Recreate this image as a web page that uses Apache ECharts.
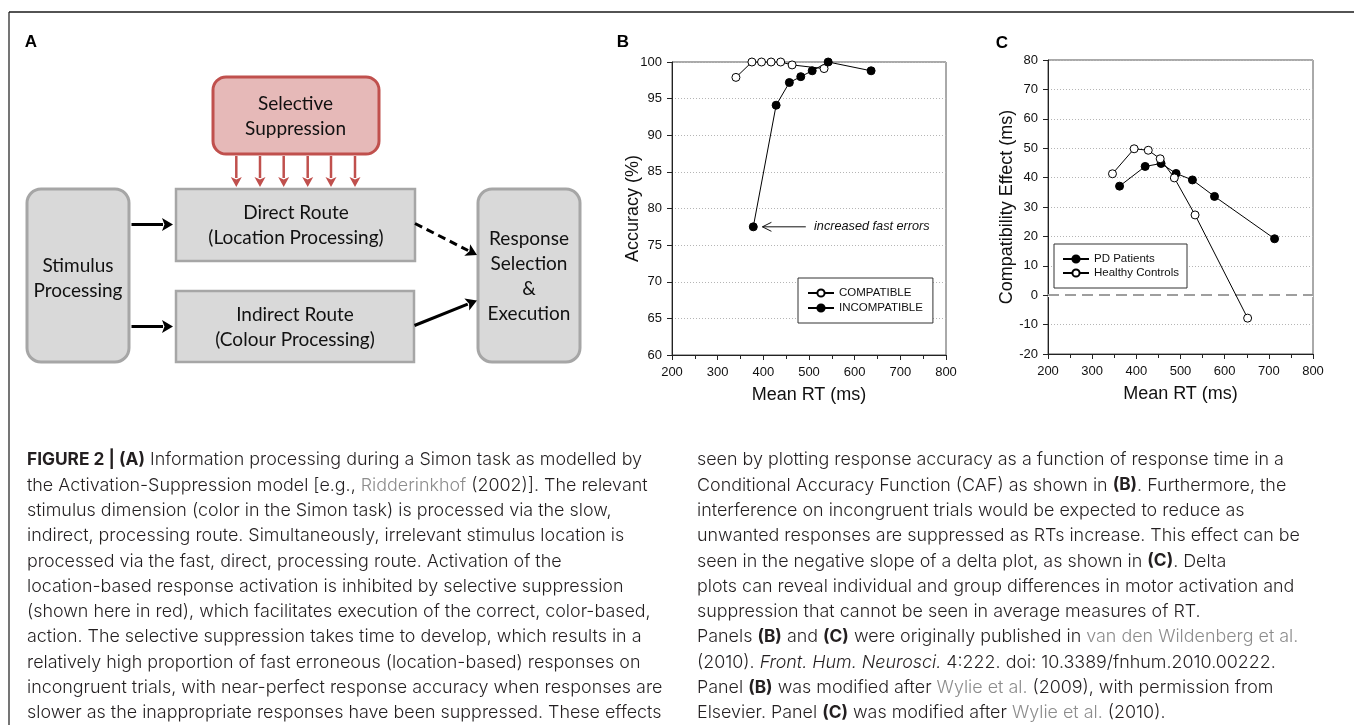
<!DOCTYPE html>
<html><head><meta charset="utf-8">
<script src="https://cdn.jsdelivr.net/npm/echarts@6/dist/echarts.min.js"></script>
<style>html,body{margin:0;padding:0;background:#fff}#c{width:1354px;height:725px}</style>
</head><body><div id="c"></div>
<script>
// ---------- data ----------
const rtTicks = [200, 300, 400, 500, 600, 700, 800];
const accuracyTicks = [60, 65, 70, 75, 80, 85, 90, 95, 100];
const effectTicks = [-20, -10, 0, 10, 20, 30, 40, 50, 60, 70, 80];
const compatibleNames = ['COMPATIBLE', 'INCOMPATIBLE'];
const compatible = [[340,97.9],[375,100],[396,100],[417,100],[438,100],[463,99.6],[533,99.1]];
const incompatible = [[378,77.5],[428,94.1],[457,97.2],[482,98],[507,98.8],[542,100],[636,98.8]];
const groupNames = ['PD Patients', 'Healthy Controls'];
const pdPatients = [[362,37.1],[420,43.8],[456,44.8],[490,41.4],[527,39.2],[577,33.6],[713,19.2]];
const healthyControls = [[346,41.3],[395,49.8],[427,49.3],[454,46.4],[486,39.9],[533,27.3],[652,-7.8]];
const zeroLine = 0;
const annotationText = 'increased fast errors';
const annotationTip = [398, 77.5];
const annotationTail = [493, 77.5];
const annotationTextAt = [511, 77.5];

const captionLeft = [
  '{b|FIGURE 2 | (A)}{n| Information processing during a Simon task as modelled by}',
  '{n|the Activation-Suppression model [e.g., }{g|Ridderinkhof}{n| (2002)]. The relevant}',
  '{n|stimulus dimension (color in the Simon task) is processed via the slow,}',
  '{n|indirect, processing route. Simultaneously, irrelevant stimulus location is}',
  '{n|processed via the fast, direct, processing route. Activation of the}',
  '{n|location-based response activation is inhibited by selective suppression}',
  '{n|(shown here in red), which facilitates execution of the correct, color-based,}',
  '{n|action. The selective suppression takes time to develop, which results in a}',
  '{n|relatively high proportion of fast erroneous (location-based) responses on}',
  '{n|incongruent trials, with near-perfect response accuracy when responses are}',
  '{n|slower as the inappropriate responses have been suppressed. These effects}'
];
const captionRight = [
  '{n|seen by plotting response accuracy as a function of response time in a}',
  '{n|Conditional Accuracy Function (CAF) as shown in }{b|(B)}{n|. Furthermore, the}',
  '{n|interference on incongruent trials would be expected to reduce as}',
  '{n|unwanted responses are suppressed as RTs increase. This effect can be}',
  '{n|seen in the negative slope of a delta plot, as shown in }{b|(C)}{n|. Delta}',
  '{n|plots can reveal individual and group differences in motor activation and}',
  '{n|suppression that cannot be seen in average measures of RT.}',
  '{n|Panels }{b|(B)}{n| and }{b|(C)}{n| were originally published in }{g|van den Wildenberg et al.}',
  '{n|(2010). }{i|Front. Hum. Neurosci.}{n| 4:222. doi: 10.3389/fnhum.2010.00222.}',
  '{n|Panel }{b|(B)}{n| was modified after }{g|Wylie et al.}{n| (2009), with permission from}',
  '{n|Elsevier. Panel }{b|(C)}{n| was modified after }{g|Wylie et al.}{n| (2010).}'
];

// ---------- chart ----------
const AX = 'Liberation Sans';
const chart = echarts.init(document.getElementById('c'));

function xAx(gi) {
  return {
    type: 'value', gridIndex: gi, min: rtTicks[0], max: rtTicks[rtTicks.length - 1], interval: 100,
    axisLine: { show: true, onZero: false, lineStyle: { color: '#222', width: 1 } },
    axisTick: { show: true, length: 5, lineStyle: { color: '#222' } },
    minorTick: { show: true, splitNumber: 2, length: 4, lineStyle: { color: '#222' } },
    axisLabel: { fontSize: 13, color: '#111', fontFamily: AX, margin: 11 },
    splitLine: { show: false },
    name: 'Mean RT (ms)', nameLocation: 'middle', nameGap: 31,
    nameTextStyle: { fontSize: 18, color: '#111', fontFamily: AX }
  };
}
function yAx(gi, ticks, name, gap) {
  return {
    type: 'value', gridIndex: gi, min: ticks[0], max: ticks[ticks.length - 1], interval: ticks[1] - ticks[0],
    axisLine: { show: true, onZero: false, lineStyle: { color: '#222', width: 1 } },
    axisTick: { show: true, length: 5, lineStyle: { color: '#222' } },
    axisLabel: { fontSize: 13, color: '#111', fontFamily: AX, margin: 10 },
    splitLine: { show: true, lineStyle: { color: '#b5b5b5', type: [1, 2], width: 1 } },
    name: name, nameLocation: 'middle', nameGap: gap, nameMoveOverlap: false,
    nameTextStyle: { fontSize: 18, color: '#111', fontFamily: AX }
  };
}
function ser(name, data, xi, filled, extra) {
  return Object.assign({
    type: 'line', name: name, data: data, xAxisIndex: xi, yAxisIndex: xi,
    symbol: 'circle', symbolSize: 8,
    itemStyle: { color: filled ? '#000' : '#fff', borderColor: '#000', borderWidth: 1 },
    lineStyle: { color: '#000', width: 1 },
    emphasis: { disabled: true }
  }, extra || {});
}
function leg(names, left, top, pad, gap) {
  return {
    data: names, left: left, top: top, orient: 'vertical', padding: pad, itemGap: gap,
    itemWidth: 26, itemHeight: 9, borderColor: '#333', borderWidth: 1, borderRadius: 0,
    backgroundColor: '#fff', selectedMode: false,
    textStyle: { fontSize: 11.5, color: '#111', fontFamily: AX }
  };
}

const option = {
  animation: false,
  backgroundColor: '#fff',
  grid: [
    { left: 672, top: 62, width: 274, height: 293, show: true, borderColor: '#555', borderWidth: 1 },
    { left: 1048, top: 60, width: 265, height: 294, show: true, borderColor: '#555', borderWidth: 1 }
  ],
  xAxis: [xAx(0), xAx(1)],
  yAxis: [yAx(0, accuracyTicks, 'Accuracy (%)', 30), yAx(1, effectTicks, 'Compatibility Effect (ms)', 32)],
  legend: [
    leg(compatibleNames, 798, 278, [9, 10, 9, 9], 3),
    leg(groupNames, 1054, 244, [9, 8, 9, 8], 2)
  ],
  series: [
    ser(compatibleNames[0], compatible, 0, false),
    ser(compatibleNames[1], incompatible, 0, true),
    ser(groupNames[0], pdPatients, 1, true, {
      markLine: { silent: true, symbol: ['none', 'none'], label: { show: false }, z: 1,
        data: [
          { yAxis: zeroLine, lineStyle: { type: 'solid', color: '#fff', width: 3 } },
          { yAxis: zeroLine, lineStyle: { type: [11, 6], color: '#7f7f7f', width: 1.6 } }
        ] }
    }),
    ser(groupNames[1], healthyControls, 1, false)
  ]
};
chart.setOption(option);

// ---------- graphics: diagram A, annotation, caption ----------
const G = [];
let gid = 0;
const DF = 'Lato';
function rect(x, y, w, h, r, fill, stroke, lw) {
  G.push({ type: 'rect', id: 'g' + (gid++), shape: { x: x, y: y, width: w, height: h, r: r },
    style: { fill: fill, stroke: stroke, lineWidth: lw }, z: 1 });
}
function txt(x, y, t, size, family, extra) {
  G.push({ type: 'text', id: 'g' + (gid++), x: x, y: y, z: 5,
    style: Object.assign({ text: t, fontSize: size, fontFamily: family, fill: '#111', align: 'center', verticalAlign: 'middle' }, extra || {}) });
}
function seg(x1, y1, x2, y2, color, lw, dash) {
  G.push({ type: 'line', id: 'g' + (gid++), shape: { x1: x1, y1: y1, x2: x2, y2: y2 }, z: 3,
    style: { stroke: color, lineWidth: lw, lineDash: dash || null } });
}
function arrow(x1, y1, x2, y2, color, lw, L, W, dash) {
  const dx = x2 - x1, dy = y2 - y1, len = Math.hypot(dx, dy);
  const ux = dx / len, uy = dy / len, px = -uy, py = ux;
  const bx = x2 - ux * L, by = y2 - uy * L;
  seg(x1, y1, bx + ux * 1, by + uy * 1, color, lw, dash);
  G.push({ type: 'polygon', id: 'g' + (gid++), z: 4,
    shape: { points: [[x2, y2], [bx + px * W, by + py * W], [bx + ux * 2.5, by + uy * 2.5], [bx - px * W, by - py * W]] },
    style: { fill: color } });
}

// frame lines
seg(9, 12, 1354, 12, '#1a1a1a', 1.5);
seg(9, 12, 9, 725, '#1a1a1a', 1.2);

// panel letters
txt(31, 42, 'A', 17, AX, { fontWeight: 'bold', fill: '#000' });
txt(623, 42, 'B', 17, AX, { fontWeight: 'bold', fill: '#000' });
txt(1002, 43, 'C', 17, AX, { fontWeight: 'bold', fill: '#000' });

// boxes
const RED = '#c0504d';
rect(213, 77, 166, 77, 13, '#e6b9b8', RED, 3);
rect(176, 189, 239, 72, 0, '#d9d9d9', '#a6a6a6', 2.5);
rect(176, 291, 238, 71, 0, '#d9d9d9', '#a6a6a6', 2.5);
rect(27, 189, 102, 173, 14, '#d9d9d9', '#a6a6a6', 3);
rect(478, 189, 102, 173, 14, '#d9d9d9', '#a6a6a6', 3);

// red suppression arrows
[236.3, 260, 283.7, 307.7, 331, 355].forEach(function (x) { arrow(x, 156, x, 187, RED, 2.5, 10, 5.5); });
// black arrows
arrow(131.5, 224.5, 173, 224.5, '#000', 3, 11, 6.5);
arrow(131.5, 326.5, 173, 326.5, '#000', 3, 11, 6.5);
arrow(415, 223.5, 477, 255, '#000', 3, 11, 6.5, [8, 5]);
arrow(414.5, 325.5, 477, 300.5, '#000', 3, 11, 6.5);

// diagram text
const DS = 19;
txt(295.5, 103.5, 'Selective', DS, DF);
txt(295.5, 128.5, 'Suppression', DS, DF);
txt(296, 213, 'Direct Route', DS, DF);
txt(296, 238, '(Location Processing)', DS, DF);
txt(295, 315, 'Indirect Route', DS, DF);
txt(295, 340, '(Colour Processing)', DS, DF);
txt(78, 266, 'Stimulus', DS, DF);
txt(78, 290.5, 'Processing', DS, DF);
txt(529, 239, 'Response', DS, DF);
txt(529, 263.5, 'Selection', DS, DF);
txt(529, 289, '&', DS, DF);
txt(529, 314, 'Execution', DS, DF);

// annotation in panel B (positions from data through the chart scale)
const tip = chart.convertToPixel({ gridIndex: 0 }, annotationTip);
const tail = chart.convertToPixel({ gridIndex: 0 }, annotationTail);
const tpos = chart.convertToPixel({ gridIndex: 0 }, annotationTextAt);
seg(tip[0], tip[1], tail[0], tail[1], '#111', 1);
seg(tip[0], tip[1], tip[0] + 9, tip[1] - 4.5, '#111', 1);
seg(tip[0], tip[1], tip[0] + 9, tip[1] + 4.5, '#111', 1);
txt(tpos[0], tpos[1], annotationText, 12.7, AX, { align: 'left', fontStyle: 'italic' });

// caption
const CF = 'Inter';
const rich = {
  n: { fontSize: 17.9, fontFamily: CF, fill: '#231f20', fontWeight: 300 },
  b: { fontSize: 17.3, fontFamily: CF, fill: '#231f20', fontWeight: 'bold' },
  g: { fontSize: 17.9, fontFamily: CF, fill: '#8c8c8c', fontWeight: 300 },
  i: { fontSize: 17.9, fontFamily: CF, fill: '#231f20', fontWeight: 300, fontStyle: 'italic' }
};
function caption(lines, x) {
  lines.forEach(function (l, k) {
    G.push({ type: 'text', id: 'g' + (gid++), x: x, y: 460 + k * 25.3, z: 5,
      style: { text: l, rich: rich, fontSize: 17.9, fontFamily: CF, fill: '#231f20', align: 'left', verticalAlign: 'middle' } });
  });
}
caption(captionLeft, 27);
caption(captionRight, 697);

chart.setOption({ graphic: G });
</script>
</body></html>
